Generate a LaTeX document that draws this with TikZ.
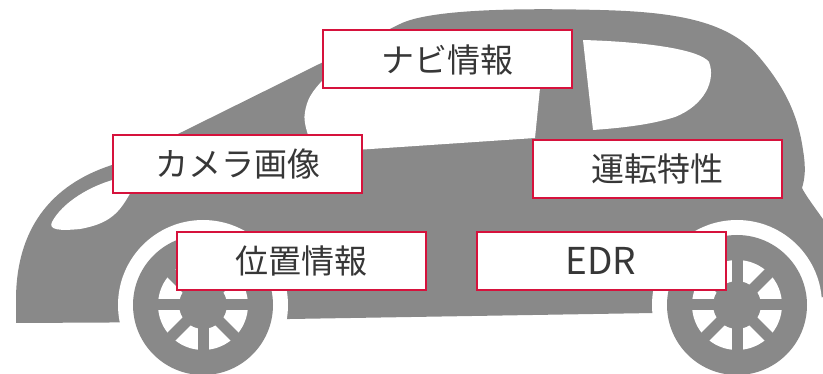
\documentclass[tikz,border=0pt]{standalone}
\usepackage{fontspec}
\newfontfamily\jpfont{Noto Sans CJK JP}
\definecolor{carbody}{RGB}{137,137,137}
\definecolor{boxred}{RGB}{214,18,60}
\definecolor{ink}{RGB}{55,55,55}
\tikzset{x=1pt,y=-1pt,
body/.style={fill=carbody},
hole/.style={fill=white},
spoke/.style={draw=carbody,line width=11pt},
tag/.style={rectangle,draw=boxred,line width=2pt,fill=white,
  minimum width=249pt,minimum height=58pt,inner sep=0pt,
  text=ink,font=\jpfont\fontsize{33}{36}\selectfont},
}

\begin{document}
\begin{tikzpicture}
\useasboundingbox (0,0) rectangle (823,374);
\clip (0,0) rectangle (823,374);

% car body
\fill[body] (16,323) -- (16,300) .. controls (16,230) and (50,185) .. (112,165)
  -- (182,132) -- (400,24)
  .. controls (430,9) and (520,8) .. (600,10)
  .. controls (680,12) and (730,22) .. (760,58)
  .. controls (785,88) and (798,115) .. (803,150)
  .. controls (806,168) and (805,178) .. (802,188)
  .. controls (808,200) and (825,220) .. (840,245)
  -- (840,295) -- (737,308) -- (654,313) -- (290,319) -- (203,322) -- cycle;

% windows and headlight
\fill[hole] (325,78) -- (541,78) -- (535,138) -- (311,153)
  .. controls (312,140) and (302,125) .. (305,112)
  .. controls (307,100) and (311,92) .. cycle;
\fill[hole] (583,40) .. controls (650,42) and (700,50) .. (709,62)
  .. controls (716,80) and (705,105) .. (675,117)
  .. controls (650,125) and (620,128) .. (593,130) -- cycle;
\fill[hole] (52,222) .. controls (62,203) and (90,185) .. (120,178)
  -- (135,185) -- (128,197)
  .. controls (118,214) and (108,224) .. (80,229)
  .. controls (60,231) and (48,230) .. cycle;

% wheels
\foreach \wx in {203,737}{
  \fill[hole] (\wx,305) circle[radius=85];
  \fill[body] (\wx,305) circle[radius=70];
  \fill[hole,even odd rule] (\wx,305) circle[radius=45] (\wx,305) circle[radius=24];
  \foreach \a in {0,45,90,135}
    \draw[spoke] (\wx,305) ++(\a:47) -- ++(\a+180:94);
}

% data labels
\node[tag] (navi) at (447.5,59.5) {ナビ情報};
\node[tag] (camera) at (237.5,164) {カメラ画像};
\node[tag] (drive) at (657,169) {運転特性};
\node[tag] (pos) at (301,261) {位置情報};
\node[tag,font=\jpfont\fontsize{37}{40}\selectfont] (edr) at (601,261) {EDR};
\end{tikzpicture}
\end{document}
